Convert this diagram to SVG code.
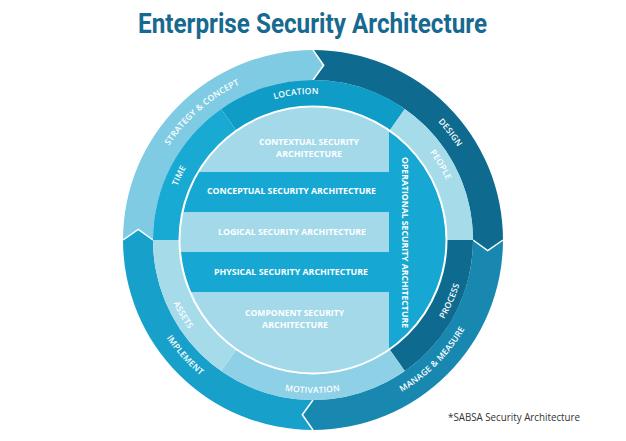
<svg xmlns="http://www.w3.org/2000/svg" width="626" height="441" viewBox="0 0 626 441">
<style>
.title{font-family:Roboto,"Liberation Sans",sans-serif;font-weight:700;font-size:28px;fill:#17698f}
.band{font-family:"Open Sans","Noto Sans",sans-serif;font-weight:700;font-size:9px;fill:#ffffff;text-anchor:middle}
.ring{font-family:"Open Sans","Noto Sans",sans-serif;font-weight:600;font-size:8.5px;fill:#ffffff;letter-spacing:0.2px}
.note{font-family:"Open Sans","Noto Sans",sans-serif;font-size:10px;fill:#333333}
.tip{fill:none;stroke:#ffffff;stroke-width:1.5;stroke-linejoin:miter}
</style>
<defs>
<clipPath id="disc"><circle cx="313" cy="240" r="133"/></clipPath>
<path id="pStrategy" d="M141.0,243.0 A172,172 0 0 1 339.9,70.1"/>
<path id="pDesign" d="M319.0,68.1 A172,172 0 0 1 481.2,275.8"/>
<path id="pManage" d="M297.7,415.3 A176,176 0 0 0 488.3,224.7"/>
<path id="pImplement" d="M138.7,215.5 A176,176 0 0 0 319.1,415.9"/>
<path id="pLocation" d="M191.1,159.6 A146,146 0 0 1 413.3,133.9"/>
<path id="pPeople" d="M337.1,96.0 A146,146 0 0 1 450.6,288.7"/>
<path id="pProcess" d="M355.2,387.1 A153,153 0 0 0 450.5,172.9"/>
<path id="pMotivation" d="M195.5,337.9 A153,153 0 0 0 429.9,338.8"/>
<path id="pAssets" d="M169.2,187.7 A153,153 0 0 0 286.4,390.7"/>
<path id="pTime" d="M179.9,300.1 A146,146 0 0 1 276.9,98.5"/>
</defs>
<rect width="626" height="441" fill="#ffffff"/>
<text class="title" x="138" y="33" textLength="349" lengthAdjust="spacingAndGlyphs">Enterprise Security Architecture</text>

<g id="outer-ring">
<g id="design"><path d="M313,50 A190,190 0 0 1 503,240 L473,240 A160,160 0 0 0 313,80 Z" fill="#0e6b8f"/></g>
<g id="manage"><path d="M503,240 A190,190 0 0 1 313,430 L313,400 A160,160 0 0 0 473,240 Z" fill="#1888b0"/></g>
<g id="implement"><path d="M313,430 A190,190 0 0 1 123,240 L153,240 A160,160 0 0 0 313,400 Z" fill="#17a1ca"/></g>
<g id="strategy"><path d="M123,240 A190,190 0 0 1 313,50 L313,80 A160,160 0 0 0 153,240 Z" fill="#7ecbe3"/></g>
<polygon points="313,50 323.7,65.3 313,80" fill="#7ecbe3"/>
<polyline class="tip" points="313,50 323.7,65.3 313,80"/>
<polygon points="503,240 487.7,250.7 473,240" fill="#0e6b8f"/>
<polyline class="tip" points="503,240 487.7,250.7 473,240"/>
<polygon points="313,430 302.3,414.7 313,400" fill="#1888b0"/>
<polyline class="tip" points="313,430 302.3,414.7 313,400"/>
<polygon points="123,240 138.3,229.3 153,240" fill="#17a1ca"/>
<polyline class="tip" points="123,240 138.3,229.3 153,240"/>
</g>

<g id="middle-ring">
<g id="location"><path d="M221.2,108.9 A160,160 0 0 1 404.8,108.9 L389.3,131 A133,133 0 0 0 236.7,131 Z" fill="#0f9cc6"/></g>
<g id="people"><path d="M404.8,108.9 A160,160 0 0 1 473,240 L446,240 A133,133 0 0 0 389.3,131 Z" fill="#a6dbea"/></g>
<g id="process"><path d="M473,240 A160,160 0 0 1 404.8,371.1 L389.3,349 A133,133 0 0 0 446,240 Z" fill="#0e6b8f"/></g>
<g id="motivation"><path d="M404.8,371.1 A160,160 0 0 1 221.2,371.1 L236.7,349 A133,133 0 0 0 389.3,349 Z" fill="#8ed0e6"/></g>
<g id="assets"><path d="M221.2,371.1 A160,160 0 0 1 153,240 L180,240 A133,133 0 0 0 236.7,349 Z" fill="#a6dbea"/></g>
<g id="time"><path d="M153,240 A160,160 0 0 1 221.2,108.9 L236.7,131 A133,133 0 0 0 180,240 Z" fill="#19aad3"/></g>
</g>

<g id="core">
<circle cx="313" cy="240" r="133" fill="#16a8d2"/>
<g clip-path="url(#disc)" fill="#a4d9ea">
<rect x="170" y="100" width="219" height="72"/>
<rect x="170" y="212" width="219" height="40"/>
<rect x="170" y="292" width="219" height="90"/>
</g>
<circle cx="313" cy="240" r="133.5" fill="none" stroke="#ffffff" stroke-width="2"/>
</g>

<g id="contextual"><text class="band" x="309" y="145" textLength="100" lengthAdjust="spacingAndGlyphs">CONTEXTUAL SECURITY</text><text class="band" x="309" y="157" textLength="66" lengthAdjust="spacingAndGlyphs">ARCHITECTURE</text></g>
<g id="conceptual"><text class="band" x="291.5" y="194" textLength="169" lengthAdjust="spacingAndGlyphs">CONCEPTUAL SECURITY ARCHITECTURE</text></g>
<g id="logical"><text class="band" x="292" y="235" textLength="148" lengthAdjust="spacingAndGlyphs">LOGICAL SECURITY ARCHITECTURE</text></g>
<g id="physical"><text class="band" x="291" y="275" textLength="154" lengthAdjust="spacingAndGlyphs">PHYSICAL SECURITY ARCHITECTURE</text></g>
<g id="component"><text class="band" x="294.5" y="316" textLength="99" lengthAdjust="spacingAndGlyphs">COMPONENT SECURITY</text><text class="band" x="295" y="328" textLength="66" lengthAdjust="spacingAndGlyphs">ARCHITECTURE</text></g>
<g id="operational"><text class="band" transform="translate(402,242.5) rotate(90)" x="0" y="0" textLength="171" lengthAdjust="spacingAndGlyphs">OPERATIONAL SECURITY ARCHITECTURE</text></g>

<g id="ring-labels">
<text class="ring"><textPath href="#pStrategy" startOffset="50%" text-anchor="middle">STRATEGY &amp; CONCEPT</textPath></text>
<text class="ring"><textPath href="#pDesign" startOffset="50%" text-anchor="middle">DESIGN</textPath></text>
<text class="ring"><textPath href="#pManage" startOffset="50%" text-anchor="middle">MANAGE &amp; MEASURE</textPath></text>
<text class="ring"><textPath href="#pImplement" startOffset="50%" text-anchor="middle">IMPLEMENT</textPath></text>
<text class="ring"><textPath href="#pLocation" startOffset="50%" text-anchor="middle">LOCATION</textPath></text>
<text class="ring"><textPath href="#pPeople" startOffset="50%" text-anchor="middle">PEOPLE</textPath></text>
<text class="ring"><textPath href="#pProcess" startOffset="50%" text-anchor="middle">PROCESS</textPath></text>
<text class="ring"><textPath href="#pMotivation" startOffset="50%" text-anchor="middle">MOTIVATION</textPath></text>
<text class="ring"><textPath href="#pAssets" startOffset="50%" text-anchor="middle">ASSETS</textPath></text>
<text class="ring"><textPath href="#pTime" startOffset="50%" text-anchor="middle">TIME</textPath></text>
</g>

<text class="note" x="448" y="421" textLength="132" lengthAdjust="spacingAndGlyphs">*SABSA Security Architecture</text>
</svg>
